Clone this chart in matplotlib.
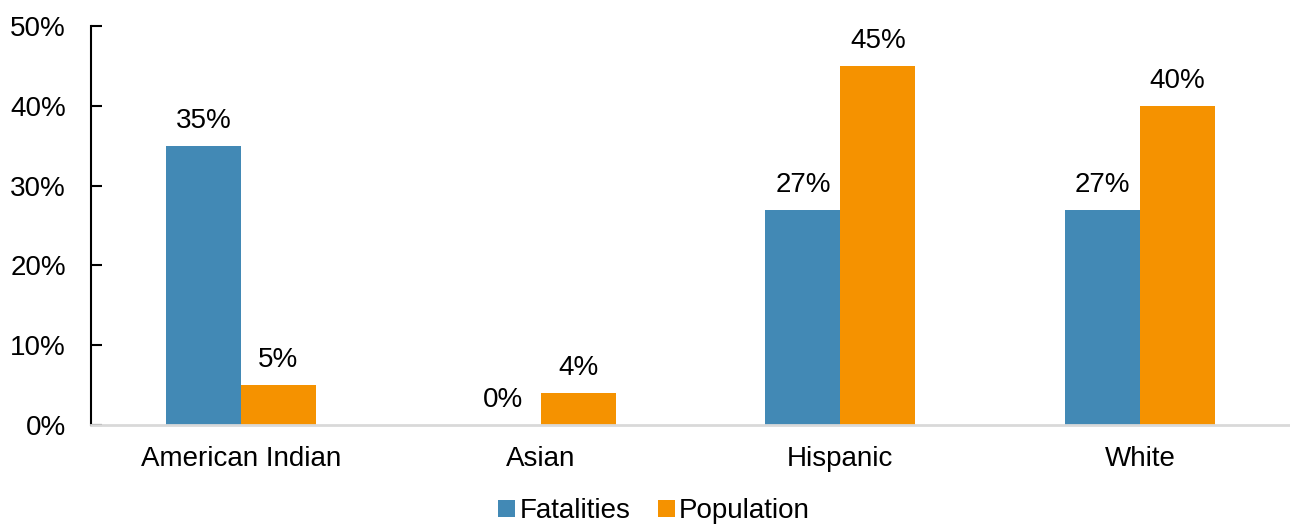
import matplotlib.pyplot as plt
import numpy as np

plt.rcParams['font.family'] = ['Liberation Sans', 'DejaVu Sans']

categories = ["American Indian", "Asian", "Hispanic", "White"]
fatalities = [35, 0, 27, 27]
population = [5, 4, 45, 40]

BLUE = "#4289B5"
ORANGE = "#F59200"
FS = 20

fig = plt.figure(figsize=(12.9, 5.27), dpi=100)
ax = fig.add_axes([0.0705, 0.1935, 0.9295, 0.7572])

x = np.arange(len(categories))
w = 0.25
b1 = ax.bar(x - w / 2, fatalities, w, color=BLUE, label="Fatalities")
b2 = ax.bar(x + w / 2, population, w, color=ORANGE, label="Population")

for bars, vals in ((b1, fatalities), (b2, population)):
    for r, v in zip(bars, vals):
        ax.text(r.get_x() + r.get_width() / 2, v + 1.5, f"{v}%",
                ha="center", va="bottom", fontsize=FS)

ax.set_xlim(-0.5, 3.5)
ax.set_ylim(0, 50)
ax.set_yticks(range(0, 51, 10))
ax.set_yticklabels([f"{t}%" for t in range(0, 51, 10)])
ax.set_xticks(x)
ax.set_xticklabels(categories)
ax.tick_params(axis="y", direction="in", length=8, width=1.5, labelsize=FS, pad=18)
ax.tick_params(axis="x", length=0, labelsize=FS, pad=15)

for s in ("top", "right"):
    ax.spines[s].set_visible(False)
ax.spines["left"].set_linewidth(1.5)
ax.spines["bottom"].set_color("#D9D9D9")
ax.spines["bottom"].set_linewidth(2)

fig.legend(loc="lower center", bbox_to_anchor=(0.507, -0.042), ncol=2,
           frameon=False, fontsize=FS, handlelength=0.6, handleheight=0.6,
           handletextpad=0.15, columnspacing=1.0)

fig.savefig("out.png", dpi=100)
